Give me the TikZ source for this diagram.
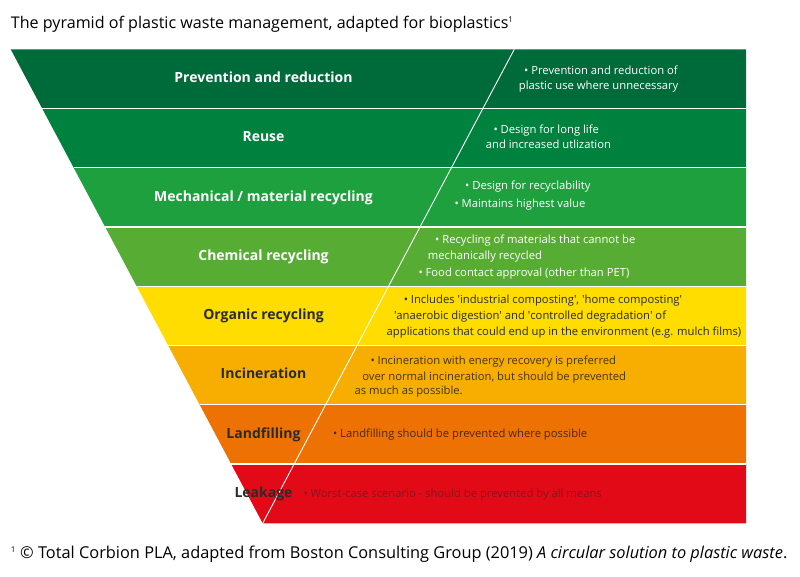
\documentclass[tikz,border=0pt]{standalone}
\usepackage{fontspec}
\setmainfont{Open Sans}
\definecolor{cA}{HTML}{006B3A}
\definecolor{cB}{HTML}{00823F}
\definecolor{cC}{HTML}{1EA03E}
\definecolor{cD}{HTML}{57AC34}
\definecolor{cE}{HTML}{FFDD00}
\definecolor{cF}{HTML}{F7AE00}
\definecolor{cG}{HTML}{EE7203}
\definecolor{cH}{HTML}{E30A17}
\definecolor{darktxt}{HTML}{2B2B2B}
\definecolor{inctxt}{HTML}{453418}
\definecolor{landtxt}{HTML}{4F2608}
\definecolor{leaktxt}{HTML}{82161E}
\tikzset{
  lbl/.style={font=\bfseries\fontsize{14}{16}\selectfont, anchor=base, inner sep=0pt},
  rt/.style={font=\fontsize{11.25}{13}\selectfont, anchor=base west, inner sep=0pt},
  sep/.style={draw=white, line width=1.2pt},
}
\begin{document}
\begin{tikzpicture}[x=1pt,y=-1pt]
\path[use as bounding box] (0,0) rectangle (800,577);
% title
\node[anchor=base west, inner sep=0pt, font=\fontsize{16.1}{18}\selectfont] (title) at (10.7,28.3)
  {The pyramid of plastic waste management, adapted for bioplastics\textsuperscript{\fontsize{8}{8}\selectfont 1}};
% bands
\fill[cA] (10.7,49.3) -- (746,49.3) -- (746,108.55) -- (42.2,108.55) -- cycle;
\fill[cB] (42.2,108.55) -- (746,108.55) -- (746,167.8) -- (73.7,167.8) -- cycle;
\fill[cC] (73.7,167.8) -- (746,167.8) -- (746,227.05) -- (105.2,227.05) -- cycle;
\fill[cD] (105.2,227.05) -- (746,227.05) -- (746,286.3) -- (136.7,286.3) -- cycle;
\fill[cE] (136.7,286.3) -- (746,286.3) -- (746,345.55) -- (168.2,345.55) -- cycle;
\fill[cF] (168.2,345.55) -- (746,345.55) -- (746,404.8) -- (199.7,404.8) -- cycle;
\fill[cG] (199.7,404.8) -- (746,404.8) -- (746,464.05) -- (231.2,464.05) -- cycle;
\fill[cH] (231.2,464.05) -- (746,464.05) -- (746,523.3) -- (262.7,523.3) -- cycle;
% separators
\draw[sep] (42.2,108.55) -- (746,108.55);
\draw[sep] (73.7,167.8) -- (746,167.8);
\draw[sep] (105.2,227.05) -- (746,227.05);
\draw[sep] (136.7,286.3) -- (746,286.3);
\draw[sep] (168.2,345.55) -- (746,345.55);
\draw[sep] (199.7,404.8) -- (746,404.8);
\draw[sep] (231.2,464.05) -- (746,464.05);
\draw[draw=white, line width=0.9pt] (514.3,49.3) -- (262.7,523.3);
% left labels
\node[lbl, white] (l1) at (263.5,82.7) {Prevention and reduction};
\node[lbl, white] (l2) at (263.5,141.9) {Reuse};
\node[lbl, white] (l3) at (263.5,201.2) {Mechanical / material recycling};
\node[lbl, white] (l4) at (263.5,260.4) {Chemical recycling};
\node[lbl, darktxt] (l5) at (263.5,319.7) {Organic recycling};
\node[lbl, darktxt] (l6) at (263.5,378.9) {Incineration};
\node[lbl, darktxt] (l7) at (263.5,438.1) {Landfilling};
\node[lbl, darktxt] (l8) at (263.5,497.4) {Leakage};
% right texts
\node[rt, white] (r1a) at (524,75) {• Prevention and reduction of};
\node[rt, white] (r1b) at (518.7,89.3) {plastic use where unnecessary};
\node[rt, white] (r2a) at (493.3,133.3) {• Design for long life};
\node[rt, white] (r2b) at (485.7,148.3) {and increased utlization};
\node[rt, white] (r3a) at (465,189.3) {• Design for recyclability};
\node[rt, white] (r3b) at (454.3,207.3) {• Maintains highest value};
\node[rt, white] (r4a) at (435,244) {• Recycling of materials that cannot be};
\node[rt, white] (r4b) at (427.7,259.3) {mechanically recycled};
\node[rt, white] (r4c) at (418.3,276.7) {• Food contact approval (other than PET)};
\node[rt, darktxt] (r5a) at (403.6,303.3) {• Includes \textquotesingle industrial composting\textquotesingle, \textquotesingle home composting\textquotesingle};
\node[rt, darktxt] (r5b) at (393.8,319.3) {\textquotesingle anaerobic digestion\textquotesingle\ and \textquotesingle controlled degradation\textquotesingle\ of};
\node[rt, darktxt] (r5c) at (386.5,335.7) {applications that could end up in the environment (e.g. mulch films)};
\node[rt, inctxt] (r6a) at (370.3,364) {• Incineration with energy recovery is preferred};
\node[rt, inctxt] (r6b) at (362.2,380) {over normal incineration, but should be prevented};
\node[rt, inctxt] (r6c) at (354.5,394.3) {as much as possible.};
\node[rt, landtxt] (r7) at (332.9,437.6) {• Landfilling should be prevented where possible};
\node[rt, leaktxt] (r8) at (303.3,497.6) {• Worst-case scenario - should be prevented by all means};
% footer
\node[anchor=base west, inner sep=0pt, font=\fontsize{16.35}{18}\selectfont] (foot) at (10.7,558.3)
  {\textsuperscript{\fontsize{8}{8}\selectfont 1} © Total Corbion PLA, adapted from Boston Consulting Group (2019) \textit{A circular solution to plastic waste}.};
\end{tikzpicture}
\end{document}
